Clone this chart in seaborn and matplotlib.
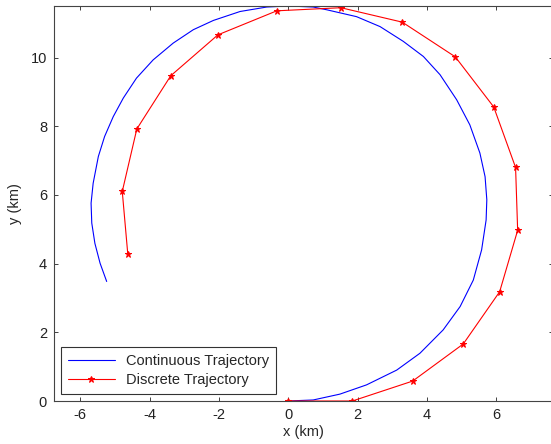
import matplotlib
matplotlib.use("Agg")
import matplotlib.pyplot as plt
import pandas as pd
import seaborn as sns

# Continuous trajectory
cont_x = [0.0, 0.72, 1.49, 2.26, 3.13, 3.80, 4.47, 4.96, 5.34, 5.58, 5.71, 5.73,
          5.68, 5.53, 5.24, 4.86, 4.38, 3.90, 3.32, 2.65, 1.97, 1.11, 0.72, 0.0,
          -0.62, -1.39, -2.16, -2.74, -3.32, -3.90, -4.38, -4.76, -5.05, -5.30,
          -5.48, -5.63, -5.69, -5.67, -5.58, -5.43, -5.24]
cont_y = [0.0, 0.03, 0.20, 0.47, 0.90, 1.39, 2.07, 2.75, 3.52, 4.40, 5.27, 5.86,
          6.53, 7.22, 8.04, 8.77, 9.50, 10.03, 10.47, 10.90, 11.19, 11.39, 11.47,
          11.5, 11.47, 11.34, 11.08, 10.81, 10.42, 9.93, 9.40, 8.82, 8.28, 7.70,
          7.12, 6.34, 5.76, 5.18, 4.59, 4.01, 3.48]

# Discrete trajectory
disc_x = [0.0, 1.85, 3.59, 5.05, 6.10, 6.62, 6.56, 5.93, 4.82, 3.29, 1.52,
          -0.33, -2.03, -3.39, -4.37, -4.79, -4.63]
disc_y = [0.0, 0.0, 0.58, 1.66, 3.18, 4.97, 6.80, 8.56, 10.02, 11.03, 11.45,
          11.36, 10.66, 9.47, 7.92, 6.10, 4.27]

xticks = [-6, -4, -2, 0, 2, 4, 6]
yticks = [0, 2, 4, 6, 8, 10]

cont = pd.DataFrame({"x": cont_x, "y": cont_y})
disc = pd.DataFrame({"x": disc_x, "y": disc_y})

sns.set_style("ticks")
plt.rcParams["font.family"] = ["Liberation Sans", "DejaVu Sans"]
plt.rcParams["font.size"] = 10.5
plt.rcParams["axes.unicode_minus"] = False

fig = plt.figure(figsize=(5.51, 4.44), dpi=100)
ax = fig.add_axes([54 / 551, 43 / 444, 499 / 551, 395 / 444])

sns.lineplot(data=cont, x="x", y="y", sort=False, estimator=None, color="blue",
             linewidth=0.8, label="Continuous Trajectory", ax=ax)
sns.lineplot(data=disc, x="x", y="y", sort=False, estimator=None, color="red",
             linewidth=0.8, marker="*", markersize=5, markeredgecolor="red",
             label="Discrete Trajectory", ax=ax)

ax.set_xlim(-6.76, 7.64)
ax.set_ylim(0, 11.5)
ax.set_xticks(xticks)
ax.set_yticks(yticks)
ax.tick_params(direction="in", length=3, width=0.6, top=True, right=True,
               labelsize=10.5, colors="#222222", pad=5)
for s in ax.spines.values():
    s.set_linewidth(0.8)
    s.set_color("#444444")
ax.set_xlabel("x (km)", fontsize=10.5, labelpad=2)
ax.set_ylabel("y (km)", fontsize=10.5, labelpad=6)

leg = ax.legend(loc="lower left", frameon=True, fancybox=False, fontsize=10.5,
                borderaxespad=0.5, handlelength=3.2, labelspacing=0.35,
                borderpad=0.45)
leg.get_frame().set_edgecolor("black")
leg.get_frame().set_linewidth(0.8)

fig.savefig("out.png", dpi=100)
